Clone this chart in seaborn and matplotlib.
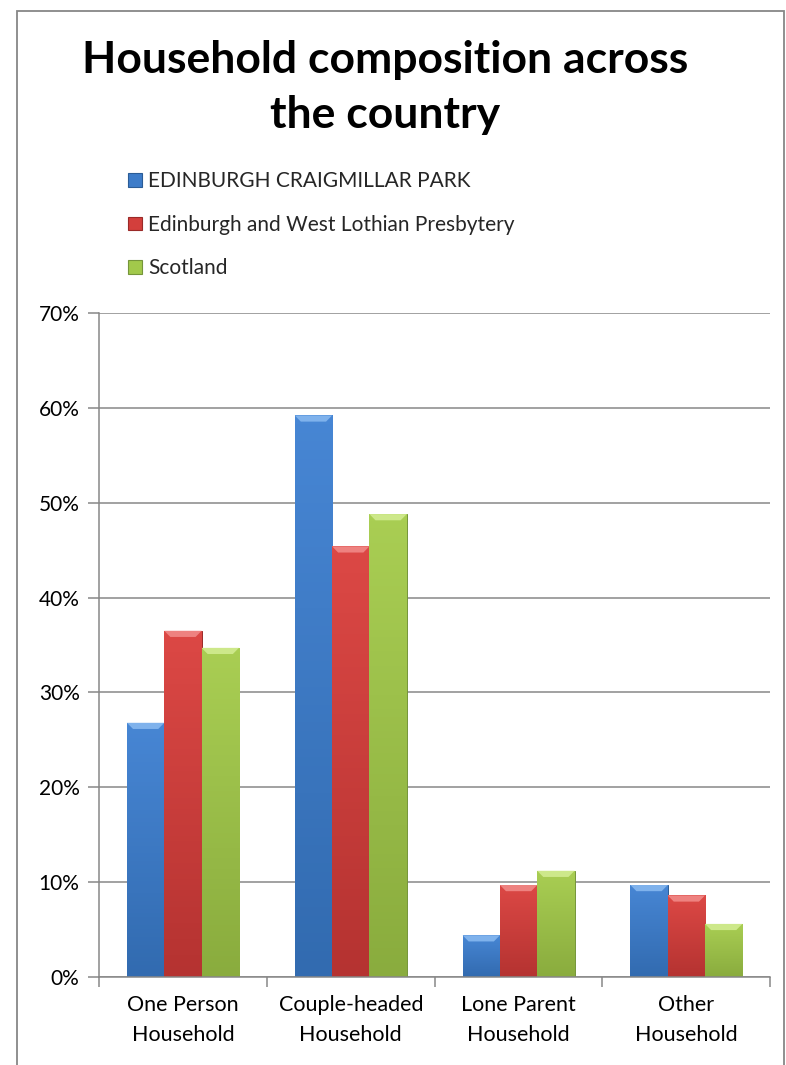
import numpy as np
import pandas as pd
import matplotlib.pyplot as plt
import seaborn as sns
from matplotlib.patches import Rectangle, Patch, Polygon
from matplotlib.colors import LinearSegmentedColormap
from matplotlib.ticker import PercentFormatter, FixedLocator

# Data (percent of households)
categories = ['One Person\nHousehold', 'Couple-headed\nHousehold',
              'Lone Parent\nHousehold', 'Other\nHousehold']
areas = ['EDINBURGH CRAIGMILLAR PARK',
         'Edinburgh and West Lothian Presbytery',
         'Scotland']
craigmillar = [26.8, 59.2, 4.4, 9.7]
presbytery = [36.5, 45.4, 9.7, 8.6]
scotland = [34.7, 48.8, 11.2, 5.6]

df = pd.DataFrame({
    'category': categories * 3,
    'area': [areas[0]] * 4 + [areas[1]] * 4 + [areas[2]] * 4,
    'value': craigmillar + presbytery + scotland,
})

colors = ['#3D7CC9', '#D33F3C', '#A2C94B']
tops = ['#4786D4', '#DC4845', '#A9CE53']
bottoms = ['#326BB0', '#B53331', '#8AAC3E']
bevels = ['#7FB2EC', '#EE8280', '#CDE88A']
edges = ['#2B5C96', '#9A2A28', '#75953A']

sns.set_style('white')
plt.rcParams['font.family'] = ['Lato', 'DejaVu Sans']

fig = plt.figure(figsize=(7.86, 10.65), dpi=100)
ax = fig.add_axes([0.126, 0.0826, 0.854, 0.6235])

sns.barplot(data=df, x='category', y='value', hue='area', palette=colors,
            width=0.667, saturation=1, gap=0, ax=ax, legend=False)

ax.set_ylim(0, 70)
ax.set_xlim(-0.5, 3.5)

# Excel-like shading: vertical gradient + bevelled top
grad = np.linspace(0, 1, 64).reshape(-1, 1)
for cont, t, b, bv, ec in zip(ax.containers, tops, bottoms, bevels, edges):
    cmap = LinearSegmentedColormap.from_list('g', [b, t])
    for bar in cont:
        x0, w, h = bar.get_x(), bar.get_width(), bar.get_height()
        bar.set_edgecolor(ec)
        bar.set_linewidth(0.7)
        im = ax.imshow(grad, extent=(x0, x0 + w, 0, h), origin='lower',
                       cmap=cmap, aspect='auto', zorder=2.1)
        im.set_clip_path(bar)
        dx, dy = 0.036, 0.65
        ax.add_patch(Polygon([(x0, h), (x0 + w, h), (x0 + w - dx, h - dy),
                              (x0 + dx, h - dy)], closed=True,
                             facecolor=bv, edgecolor='none', zorder=2.2))

ax.set_ylim(0, 70)
ax.set_xlim(-0.5, 3.5)
ax.yaxis.set_major_locator(FixedLocator(np.arange(0, 71, 10)))
ax.yaxis.set_major_formatter(PercentFormatter(decimals=0))
ax.grid(axis='y', color='#878787', linewidth=1.1)
ax.set_axisbelow(True)
ax.set_xlabel('')
ax.set_ylabel('')

for s in ['top', 'right']:
    ax.spines[s].set_visible(False)
for s in ['left', 'bottom']:
    ax.spines[s].set_color('#878787')
    ax.spines[s].set_linewidth(1.1)

ax.tick_params(axis='y', which='major', length=8, width=1.1, color='#878787',
               labelsize=15, labelcolor='black', pad=6, left=True)
ax.tick_params(axis='x', which='major', length=0, labelsize=15.5,
               labelcolor='black', pad=13)
ax.xaxis.set_minor_locator(FixedLocator(np.arange(-0.5, 3.6, 1)))
ax.tick_params(axis='x', which='minor', length=7, width=1.1, color='#878787',
               bottom=True, direction='out')
for lbl in ax.get_xticklabels():
    lbl.set_linespacing(1.65)

fig.text(0.49, 0.918, 'Household composition across\nthe country',
         ha='center', va='center', fontsize=32, fontweight='bold',
         linespacing=1.45, color='black')

handles = [Patch(facecolor=c, edgecolor=e, linewidth=0.8) for c, e in zip(colors, edges)]
fig.legend(handles, areas, loc='upper left', bbox_to_anchor=(0.163, 0.839),
           frameon=False, fontsize=15, handlelength=0.65, handleheight=0.65,
           handletextpad=0.3, labelspacing=1.12, borderpad=0, borderaxespad=0)

# outer chart frame
fig.patches.append(Rectangle((17 / 786, -0.02), 767 / 786, 1 - 11 / 1065 + 0.02,
                             transform=fig.transFigure, fill=False,
                             edgecolor='#878787', linewidth=1.3))

fig.savefig('out.png', dpi=100)
